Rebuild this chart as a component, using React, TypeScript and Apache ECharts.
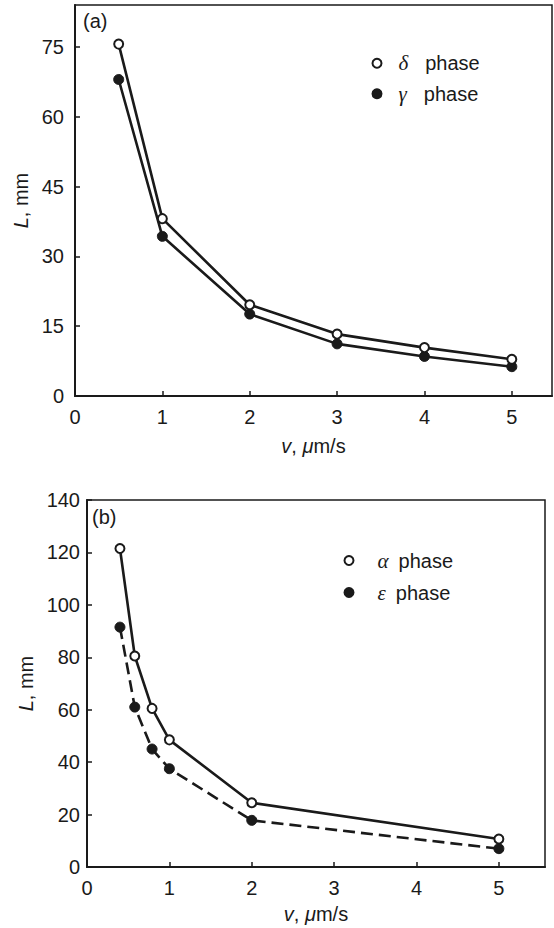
import React, { useEffect, useRef } from 'react';
import * as echarts from 'echarts';

// Panel (a)
const speedsA = [0.5, 1, 2, 3, 4, 5];
const deltaPhase = [75.6, 38.1, 19.6, 13.3, 10.4, 7.9];
const gammaPhase = [68.0, 34.3, 17.6, 11.2, 8.5, 6.3];
const xTicksA = [0, 1, 2, 3, 4, 5];
const yTicksA = [0, 15, 30, 45, 60, 75];

// Panel (b)
const speedsB = [0.4, 0.58, 0.79, 1, 2, 5];
const alphaPhase = [121.5, 80.5, 60.5, 48.5, 24.5, 10.7];
const epsilonPhase = [91.5, 61, 45, 37.5, 17.8, 7];
const xTicksB = [0, 1, 2, 3, 4, 5];
const yTicksB = [0, 20, 40, 60, 80, 100, 120, 140];

const FONT = "'Liberation Sans', Arial, sans-serif";
const INK = '#1a1a1a';
const FS = 20;

const zip = (xs: number[], ys: number[]) => xs.map((x, i) => [x, ys[i]]);

export default function App() {
  const ref = useRef<HTMLDivElement>(null);
  useEffect(() => {
    const chart = echarts.init(ref.current!, null, { renderer: 'svg' });

    const axisCommon = {
      type: 'value' as const,
      axisLine: { show: true, onZero: false, lineStyle: { color: INK, width: 2 } },
      axisTick: { show: true, inside: true, length: 5, lineStyle: { color: INK, width: 1.5 } },
      splitLine: { show: false },
      axisLabel: { color: INK, fontSize: FS, fontFamily: FONT, margin: 11, showMaxLabel: false },
    };

    const nameRich = {
      i: { fontStyle: 'italic', fontSize: FS, fontFamily: FONT, color: INK },
      n: { fontSize: FS, fontFamily: FONT, color: INK },
    };

    const legendRich = (gPad: number, tPad: number) => ({
      g: { fontStyle: 'italic', fontSize: 21, fontFamily: "'Liberation Serif', serif", color: INK, padding: [0, 0, 0, gPad] },
      t: { fontSize: FS, fontFamily: FONT, color: INK, padding: [0, 0, 0, tPad] },
    });
    const legendFmt = (name: string) => {
      const [g, t] = name.split(' ');
      return `{g|${g}}{t|${t}}`;
    };

    const openSym = { color: '#ffffff', borderColor: INK, borderWidth: 2 };
    const fillSym = { color: INK, borderColor: INK, borderWidth: 1 };

    chart.setOption({
      animation: false,
      backgroundColor: '#ffffff',
      grid: [
        { left: 75, top: 5, width: 477, height: 391, show: true, borderColor: INK, borderWidth: 1.5, containLabel: false },
        { left: 87, top: 500, width: 458, height: 367, show: true, borderColor: INK, borderWidth: 1.5, containLabel: false },
      ],
      xAxis: [
        {
          ...axisCommon, gridIndex: 0, min: xTicksA[0], max: 5.46, interval: xTicksA[1] - xTicksA[0],
          name: '{i|v}{n|, }{i|μ}{n|m/s}', nameLocation: 'middle', nameGap: 40,
          nameTextStyle: { rich: nameRich },
        },
        {
          ...axisCommon, gridIndex: 1, min: xTicksB[0], max: 5.56, interval: xTicksB[1] - xTicksB[0],
          name: '{i|v}{n|, }{i|μ}{n|m/s}', nameLocation: 'middle', nameGap: 37,
          nameTextStyle: { rich: nameRich },
        },
      ],
      yAxis: [
        {
          ...axisCommon, gridIndex: 0, min: yTicksA[0], max: 84, interval: yTicksA[1] - yTicksA[0],
          name: '{i|L}{n|, mm}', nameLocation: 'middle', nameGap: 38, nameRotate: 90,
          nameTextStyle: { rich: nameRich },
        },
        {
          ...axisCommon, gridIndex: 1, min: yTicksB[0], max: yTicksB[yTicksB.length - 1], interval: yTicksB[1] - yTicksB[0],
          axisLabel: { ...axisCommon.axisLabel, showMaxLabel: true, margin: 7 },
          name: '{i|L}{n|, mm}', nameLocation: 'middle', nameGap: 39, nameRotate: 90,
          nameTextStyle: { rich: nameRich },
        },
      ],
      legend: [
        {
          data: ['δ phase', 'γ phase'], orient: 'vertical', left: 371.5, top: 52.7, padding: 0,
          itemWidth: 9, itemHeight: 9, itemGap: 9.6, icon: 'circle',
          formatter: legendFmt,
          textStyle: { lineHeight: 21, rich: legendRich(12, 17) },
        },
        {
          data: ['α phase', 'ε phase'], orient: 'vertical', left: 343.5, top: 550, padding: 0,
          itemWidth: 9, itemHeight: 9, itemGap: 11, icon: 'circle',
          formatter: legendFmt,
          textStyle: { lineHeight: 21, rich: legendRich(19, 10) },
        },
      ],
      graphic: [
        { type: 'text', left: 83, top: 11, style: { text: '(a)', fontSize: FS, fontFamily: FONT, fill: INK } },
        { type: 'text', left: 92, top: 507, style: { text: '(b)', fontSize: FS, fontFamily: FONT, fill: INK } },
      ],
      series: [
        {
          name: 'δ phase', type: 'line', xAxisIndex: 0, yAxisIndex: 0, data: zip(speedsA, deltaPhase),
          symbol: 'circle', symbolSize: 9, itemStyle: openSym, lineStyle: { color: INK, width: 2.6 }, z: 3,
        },
        {
          name: 'γ phase', type: 'line', xAxisIndex: 0, yAxisIndex: 0, data: zip(speedsA, gammaPhase),
          symbol: 'circle', symbolSize: 10, itemStyle: fillSym, lineStyle: { color: INK, width: 2.6 }, z: 2,
        },
        {
          name: 'α phase', type: 'line', xAxisIndex: 1, yAxisIndex: 1, data: zip(speedsB, alphaPhase),
          symbol: 'circle', symbolSize: 9, itemStyle: openSym, lineStyle: { color: INK, width: 2.6 }, z: 3,
        },
        {
          name: 'ε phase', type: 'line', xAxisIndex: 1, yAxisIndex: 1, data: zip(speedsB, epsilonPhase),
          symbol: 'circle', symbolSize: 10, itemStyle: fillSym, lineStyle: { color: INK, width: 2.6, type: [12, 6] }, z: 2,
        },
      ],
    });
    return () => chart.dispose();
  }, []);

  return (
    <div
      ref={ref}
      style={{ position: 'absolute', left: 0, top: 0, width: 554, height: 928, background: '#fff' }}
    />
  );
}
